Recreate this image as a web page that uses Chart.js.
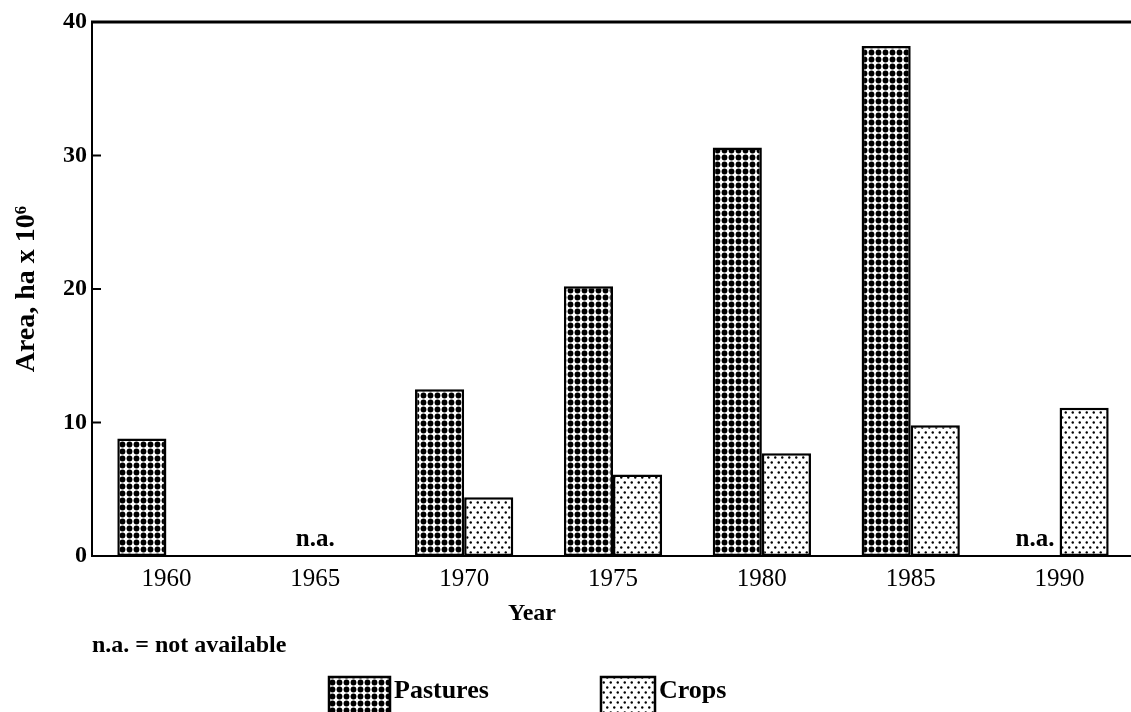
<!DOCTYPE html>
<html><head><meta charset="utf-8">
<script src="https://cdn.jsdelivr.net/npm/chart.js@4"></script>
<style>html,body{margin:0;padding:0;overflow:hidden;background:#fff;width:1131px;height:712px}canvas{display:block}</style>
</head><body><canvas id="c" width="1136" height="712"></canvas>
<script>
const years = ['1960','1965','1970','1975','1980','1985','1990'];
const pastures = [8.8, null, 12.5, 20.2, 30.6, 38.2, null];
const crops = [null, null, 4.4, 6.1, 7.7, 9.8, 11.1];
const naYears = ['1965','1990'];
const yInnerTicks = [10, 20, 30];
const seriesNames = ['Pastures', 'Crops'];

const SERIF = '"Liberation Serif", "Times New Roman", serif';

function makePattern(bg, fg, w, h, pts, r) {
  const c = document.createElement('canvas');
  c.width = w; c.height = h;
  const g = c.getContext('2d');
  g.fillStyle = bg; g.fillRect(0, 0, w, h);
  g.fillStyle = fg;
  pts.forEach(([px, py]) => { g.beginPath(); g.arc(px, py, r, 0, Math.PI*2); g.fill(); });
  return document.getElementById('c').getContext('2d').createPattern(c, 'repeat');
}
const pastPattern = makePattern('#fff', '#000', 14, 14,
  [[3.5,3.5],[10.5,3.5],[3.5,10.5],[10.5,10.5]], 2.9);
const cropPattern = makePattern('#fff', '#000', 14, 10,
  [[1.75,2.5],[5.25,7.5],[8.75,2.5],[12.25,7.5]], 1.2);

const deco = {
  id: 'deco',
  afterDraw(chart) {
    const {ctx, chartArea: a, scales: {x, y}} = chart;
    ctx.save();
    ctx.strokeStyle = '#000';
    ctx.lineWidth = 3;
    ctx.beginPath(); ctx.moveTo(a.left - 1, a.top); ctx.lineTo(a.right + 5, a.top); ctx.stroke();
    ctx.lineWidth = 2;
    yInnerTicks.forEach(v => {
      const py = y.getPixelForValue(v);
      ctx.beginPath(); ctx.moveTo(a.left, py); ctx.lineTo(a.left + 9, py); ctx.stroke();
    });
    ctx.fillStyle = '#000';
    ctx.textBaseline = 'alphabetic';
    ctx.font = 'bold 25px ' + SERIF;
    ctx.textAlign = 'center';
    const meta = chart.getDatasetMeta(0);
    naYears.forEach(yr => {
      const i = years.indexOf(yr);
      let px = x.getPixelForValue(i);
      if (crops[i] !== null && meta.data[i] && isFinite(meta.data[i].x)) px = meta.data[i].x;
      ctx.fillText('n.a.', px, a.bottom - 10);
    });
    ctx.font = 'bold 24px ' + SERIF;
    ctx.fillText('Year', 532, 620);
    ctx.textAlign = 'left';
    ctx.fillText('n.a. = not available', 92, 652);
    // legend
    const boxes = [[329, 61, pastPattern, 394], [601, 54, cropPattern, 659]];
    ctx.font = 'bold 26px ' + SERIF;
    boxes.forEach(([bx, bw, pat, tx], k) => {
      ctx.fillStyle = pat; ctx.fillRect(bx, 677, bw, 40);
      ctx.lineWidth = 2.5; ctx.strokeRect(bx, 677, bw, 40);
      ctx.fillStyle = '#000'; ctx.fillText(seriesNames[k], tx, 698);
    });
    ctx.restore();
  }
};

new Chart(document.getElementById('c'), {
  type: 'bar',
  data: {
    labels: years,
    datasets: [
      {label: seriesNames[0], data: pastures, backgroundColor: pastPattern, borderColor: '#000', borderWidth: 2.5, borderSkipped: false, categoryPercentage: 0.66, barPercentage: 1.0},
      {label: seriesNames[1], data: crops, backgroundColor: cropPattern, borderColor: '#000', borderWidth: 2.5, borderSkipped: false, categoryPercentage: 0.66, barPercentage: 1.0}
    ]
  },
  options: {
    responsive: false,
    animation: false,
    layout: {padding: {top: 22, right: 2, left: 0, bottom: 0}},
    plugins: {legend: {display: false}, tooltip: {enabled: false}},
    scales: {
      x: {
        grid: {display: false, drawTicks: false},
        border: {display: true, color: '#000', width: 2},
        ticks: {color: '#000', font: {family: SERIF, size: 25}, padding: 8, maxRotation: 0, autoSkip: false},
        afterFit(s) { s.height = 156; }
      },
      y: {
        min: 0, max: 40,
        ticks: {stepSize: 10, color: '#000', font: {family: SERIF, size: 24, weight: 'bold'}, padding: 5},
        grid: {display: false, drawTicks: false},
        border: {display: true, color: '#000', width: 2},
        title: {display: true, text: 'Area, ha x 10⁶', color: '#000', font: {family: SERIF, size: 28, weight: 'bold'}, padding: {top: 10, bottom: 0}},
        afterFit(s) { s.width = 92; }
      }
    }
  },
  plugins: [deco]
});
</script>
</body></html>
